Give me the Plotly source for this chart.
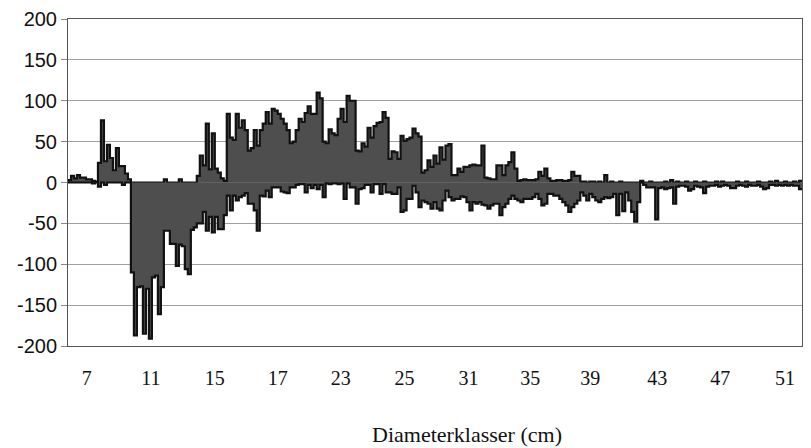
import plotly.graph_objects as go

# Positive and negative differences per diameter class (one value per narrow class)
pos = [3, 8, 5, 9, 6, 6, 4, 4, 2, 1,
       24, 76, 26, 46, 30, 15, 42, 20, 20, 11, 4,
       0, 0, 0, 0, 0, 0, 0, 0, 0, 0, 0, 4, 0, 0, 0, 0, 4, 0, 0, 0, 0, 0,
       8, 33, 21, 72, 16, 60, 17, 12, 5, 2, 84, 55, 52, 84, 67, 76, 64, 39,
       42, 64, 45, 64, 72, 86, 72, 90, 88, 84, 78, 72, 64, 48, 50, 64, 78, 74,
       85, 93, 84, 84, 110, 103, 50, 48, 65, 60, 58, 78, 90, 74, 106, 100, 100,
       39, 38, 48, 44, 67, 55, 69, 73, 74, 86, 79, 29, 38, 37, 29, 57, 51, 53,
       55, 66, 60, 56,
       12, 15, 27, 19, 33, 23, 43, 28, 45, 47, 9, 9, 17, 13, 19, 19, 21, 22,
       21, 21, 45, 6, 5, 4, 4, 21, 21, 9, 21, 25, 37, 17, 2,
       3, 4, 3, 3, 3, 4, 13, 8, 17, 5, 2, 2, 3, 3, 2, 2, 3, 13, 8, 8, 1,
       1, 0, 1, 1, 0, 1, 0,
       9,
       0, 1, 0, 0, 1, 0, 0, 0, 0, 0, 0,
       2,
       0, 0, 1, 0, 0, 0, 0, 1, 0,
       3,
       0, 1, 0, 0, 1, 0, 0, 1, 0, 0, 1, 0, 0, 0, 1, 0, 1, 0, 0, 0,
       0, 1, 0, 0, 1, 0, 0, 0, 1, 0, 0, 0, 1, 0, 2, 0, 0, 1, 0, 0,
       1, 0, 2]

neg = [0, 0, 0, 0, 0, 0, 0, 0, -1, 0,
       -5, 0, -3, 0, 0, 0, 0, 0, -3, 0, 0,
       -110, -187, -128, -127, -185, -130, -191, -116, -114, -161, -128,
       -59, -59, -75, -75, -102, -76, -78, -106, -112, -58, -55,
       -50, -50, -36, -59, -42, -61, -42, -57, -57, -40, -16, -34, -16, -22,
       -18, -16, -13, -26, -26, -34, -59, -16, -17, -10, -18, -6, -6, -6,
       -11, -12, -13, -6, -6, -3, -2, -2,
       -12, -3, -7, -3, -8, -3, -18, -1, -2, -1, -1, -2, -1, -20, -1, -6, -6,
       -26, -8, -7, -3, -3, -12, -2, -2, -14, -2, -12, -12, -14, -14, -6,
       -36, -34, -20, -20, -4, -12, -30,
       -22, -24, -26, -32, -24, -32, -34, -22, -10, -18, -22, -20, -20, -17,
       -18, -24, -34, -24, -26, -24, -27, -28, -32, -28, -26, -26, -40, -30,
       -26, -20, -16, -20, -22,
       -24, -20, -20,
       -20, -18, -14, -20, -28, -26, -14, -14, -16, -16, -20, -24, -28, -36,
       -30, -26, -22, -12, -16, -22, -14, -18, -22, -24, -20, -18, -19, -18,
       -14, -40, -14, -35, -12, -22, -36, -48, -24,
       0, -3, -6, -6, -6, -45, -7, -6, -8, -7,
       -6, -26, -5, -4, -4, -5, -10, -8, -4, -5,
       -6, -13, -5, -4, -4, -3, -5, -4, -3, -4,
       -7, -7, -4, -3, -4, -5, -3, -4, -4, -3,
       -5, -8, -7, -3, -3, -4, -3, -4, -3, -4,
       -3, -4, -4, -8]

# Class labels shown along the axis and the class position each one sits under
tick_labels = ["7", "11", "15", "17", "23", "25", "31", "35", "39", "43", "47", "51"]
tick_pos = [6.3, 27.7, 49.0, 70.0, 91.0, 112.3, 133.7, 154.3, 174.3, 196.7, 217.7, 239.3]

y_ticks = [-200, -150, -100, -50, 0, 50, 100, 150, 200]

n = len(pos)
edges = list(range(n + 1))

FILL = "#4e4e4e"
EDGE = "#111111"

fig = go.Figure()
for series in (pos, neg):
    fig.add_trace(go.Scatter(
        x=edges,
        y=list(series) + [series[-1]],
        mode="lines",
        line=dict(shape="hv", color=EDGE, width=2.2),
        fill="tozeroy",
        fillcolor=FILL,
        hoverinfo="skip",
        showlegend=False,
    ))

fig.update_layout(
    width=811, height=448,
    margin=dict(l=68, r=9, t=19, b=102),
    paper_bgcolor="white",
    plot_bgcolor="white",
    showlegend=False,
)

fig.update_xaxes(
    range=[0, n],
    tickmode="array",
    tickvals=tick_pos,
    ticktext=tick_labels,
    ticks="",
    showgrid=False,
    zeroline=False,
    showline=True, mirror=True, linecolor="#555555", linewidth=1,
    tickfont=dict(family="Liberation Serif", size=20, color="#111111"),
    ticklabelstandoff=14,
)

fig.update_yaxes(
    range=[-200, 200],
    tickmode="array",
    tickvals=y_ticks,
    ticktext=[str(v) for v in y_ticks],
    ticks="outside", ticklen=6, tickcolor="#888888",
    showgrid=True, gridcolor="#a0a0a0", gridwidth=1,
    zeroline=False,
    showline=True, mirror=True, linecolor="#555555", linewidth=1,
    tickfont=dict(family="Liberation Sans", size=20, color="#111111"),
)

fig.add_annotation(
    text="Diameterklasser (cm)",
    xref="paper", yref="paper",
    x=0.5436, y=-0.272,
    xanchor="center", yanchor="middle",
    showarrow=False,
    font=dict(family="Liberation Serif", size=22, color="#111111"),
)

fig.write_html("out.html")
